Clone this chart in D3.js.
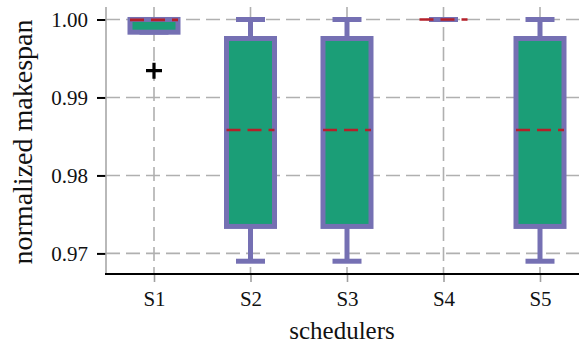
<!DOCTYPE html>
<html>
<head>
<meta charset="utf-8">
<script src="https://cdn.jsdelivr.net/npm/d3@7"></script>
<style>
  html, body { margin: 0; padding: 0; background: #fff; }
  svg { display: block; }
</style>
</head>
<body>
<svg id="chart" width="579" height="347"></svg>
<script>
// Schedulers and their makespan distribution summaries (normalized)
const schedulers = ["S1", "S2", "S3", "S4", "S5"];
const q1Values      = [0.99837, 0.97346, 0.97346, 1.0, 0.97346];
const q3Values      = [1.0,     0.99756, 0.99756, 1.0, 0.99756];
const whiskerLow    = [0.99837, 0.9690,  0.9690,  1.0, 0.9690];
const whiskerHigh   = [1.0,     1.0,     1.0,     1.0, 1.0];
const meanValues    = [0.99995, 0.98583, 0.98583, 1.0, 0.98583];
const outliers      = [[0.99344], [], [], [], []];
const yTickValues   = [0.97, 0.98, 0.99, 1.00];

const serif = '"Liberation Serif", "Times New Roman", serif';
const svg = d3.select("#chart");
const plot = { left: 106, right: 579, top: 7, bottom: 274 };

const x = d3.scalePoint()
  .domain(schedulers)
  .range([154, 540]);

const y = d3.scaleLinear()
  .domain([0.96736, 1.0016])
  .range([plot.bottom, plot.top]);

const gridColor = "#b0b0b0";
const boxEdge = "#7570b3";
const boxFill = "#1b9e77";
const meanColor = "#b5202a";
const boxWidth = 48;
const capWidth = 29;

// Grid lines
const grid = svg.append("g");
grid.selectAll("line.hgrid").data(yTickValues).join("line")
  .attr("class", "hgrid")
  .attr("x1", plot.left).attr("x2", plot.right)
  .attr("y1", d => y(d)).attr("y2", d => y(d))
  .attr("stroke", gridColor).attr("stroke-width", 1.6)
  .attr("stroke-dasharray", "14,6");
grid.selectAll("line.vgrid").data(schedulers).join("line")
  .attr("class", "vgrid")
  .attr("x1", d => x(d)).attr("x2", d => x(d))
  .attr("y1", plot.top).attr("y2", plot.bottom)
  .attr("stroke", gridColor).attr("stroke-width", 1.6)
  .attr("stroke-dasharray", "14,6");

// Boxes
const boxes = svg.append("g").selectAll("g").data(schedulers).join("g")
  .attr("transform", d => `translate(${x(d)},0)`);

boxes.append("line")
  .attr("x1", 0).attr("x2", 0)
  .attr("y1", (d, i) => y(q3Values[i])).attr("y2", (d, i) => y(whiskerHigh[i]))
  .attr("stroke", boxEdge).attr("stroke-width", 5);
boxes.append("line")
  .attr("x1", 0).attr("x2", 0)
  .attr("y1", (d, i) => y(q1Values[i])).attr("y2", (d, i) => y(whiskerLow[i]))
  .attr("stroke", boxEdge).attr("stroke-width", 5);
boxes.append("line")
  .attr("x1", -capWidth / 2).attr("x2", capWidth / 2)
  .attr("y1", (d, i) => y(whiskerHigh[i])).attr("y2", (d, i) => y(whiskerHigh[i]))
  .attr("stroke", boxEdge).attr("stroke-width", 5);
boxes.append("line")
  .attr("x1", -capWidth / 2).attr("x2", capWidth / 2)
  .attr("y1", (d, i) => y(whiskerLow[i])).attr("y2", (d, i) => y(whiskerLow[i]))
  .attr("stroke", boxEdge).attr("stroke-width", 5);
boxes.append("rect")
  .attr("x", -boxWidth / 2).attr("width", boxWidth)
  .attr("y", (d, i) => y(q3Values[i]))
  .attr("height", (d, i) => y(q1Values[i]) - y(q3Values[i]))
  .attr("fill", boxFill).attr("stroke", boxEdge).attr("stroke-width", 5);
boxes.append("line")
  .attr("x1", -boxWidth / 2).attr("x2", boxWidth / 2)
  .attr("y1", (d, i) => y(meanValues[i])).attr("y2", (d, i) => y(meanValues[i]))
  .attr("stroke", meanColor).attr("stroke-width", 2.6)
  .attr("stroke-dasharray", "14,7");

// Outliers as plus markers
boxes.each(function(d, i) {
  const g = d3.select(this);
  outliers[i].forEach(v => {
    const cy = y(v);
    g.append("path")
      .attr("d", `M-8,${cy}H8M0,${cy - 8}V${cy + 8}`)
      .attr("stroke", "#000").attr("stroke-width", 3.2);
  });
});

// Axes
const yAxis = d3.axisLeft(y).tickValues(yTickValues)
  .tickFormat(d3.format(".2f")).tickSize(9).tickPadding(9);
const gy = svg.append("g").attr("transform", `translate(${plot.left},0)`).call(yAxis);
gy.select(".domain").remove();
gy.selectAll(".tick line").attr("stroke", "#000").attr("stroke-width", 2);
gy.selectAll(".tick text")
  .style("font-family", serif).style("font-size", "21px").style("fill", "#111");
svg.append("line")
  .attr("x1", plot.left).attr("x2", plot.left)
  .attr("y1", plot.top).attr("y2", plot.bottom)
  .attr("stroke", "#a8a8a8").attr("stroke-width", 1.6);

const xAxis = d3.axisBottom(x).tickSize(8).tickPadding(9);
const gx = svg.append("g").attr("transform", `translate(0,${plot.bottom})`).call(xAxis);
gx.select(".domain").remove();
gx.selectAll(".tick line").attr("stroke", "#a0a0a0").attr("stroke-width", 1.6);
gx.selectAll(".tick text")
  .style("font-family", serif).style("font-size", "21px").style("fill", "#111");
svg.append("line")
  .attr("x1", plot.left - 1).attr("x2", plot.right)
  .attr("y1", plot.bottom).attr("y2", plot.bottom)
  .attr("stroke", "#000").attr("stroke-width", 2);

// Axis titles
svg.append("text")
  .attr("x", 342).attr("y", 339)
  .attr("text-anchor", "middle")
  .style("font-family", serif).style("font-size", "25px").style("fill", "#111")
  .text("schedulers");
svg.append("text")
  .attr("transform", "translate(32,142) rotate(-90)")
  .attr("text-anchor", "middle")
  .style("font-family", serif).style("font-size", "28px").style("fill", "#111")
  .text("normalized makespan");
</script>
</body>
</html>
